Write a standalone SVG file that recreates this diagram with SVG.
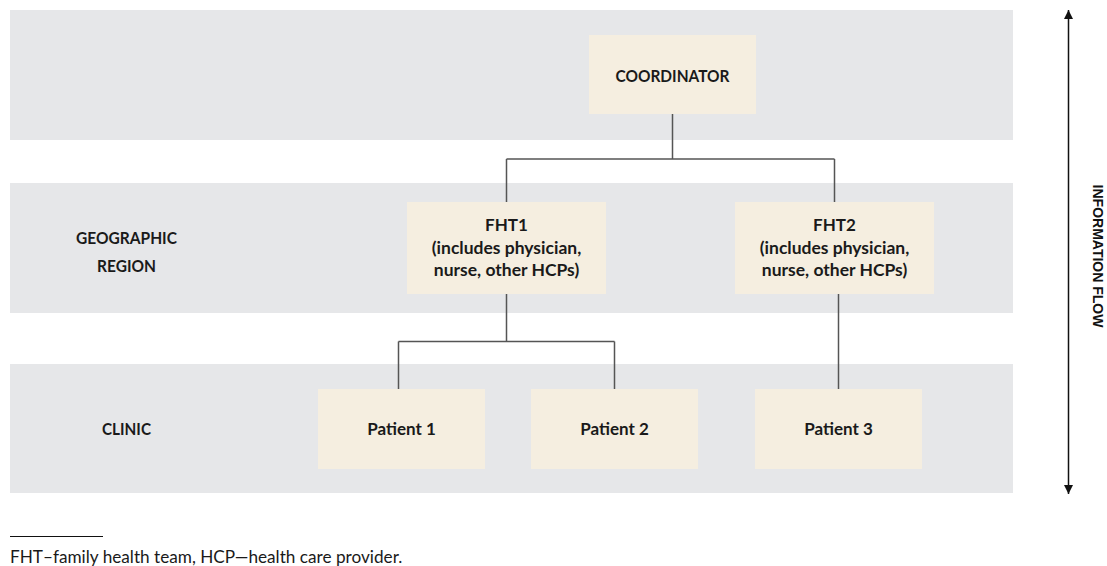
<svg xmlns="http://www.w3.org/2000/svg" width="1107" height="566" viewBox="0 0 1107 566">
<style>
.band{fill:#e6e7e9}
.box{fill:#f5eee0}
.t{font-family:Lato,"Liberation Sans",sans-serif;font-weight:700;font-size:17px;fill:#1a1a1a;text-anchor:middle}
.l{font-size:17.5px}
.conn{stroke:#555;stroke-width:1.5;fill:none}
.foot{font-family:Lato,"Liberation Sans",sans-serif;font-size:17.2px;fill:#1a1a1a}
.flow{font-family:"Liberation Sans",Arial,sans-serif;font-weight:700;font-size:14px;fill:#111;text-anchor:middle}
</style>
<defs>
<marker id="ah" viewBox="0 0 10 10" refX="10" refY="5" markerWidth="9" markerHeight="9" markerUnits="userSpaceOnUse" orient="auto-start-reverse">
<path d="M0,0 L10,5 L0,10 z" fill="#111"/>
</marker>
</defs>
<g id="bands">
<rect class="band" x="10" y="10" width="1003" height="130"/>
<rect class="band" x="10" y="183" width="1003" height="130"/>
<rect class="band" x="10" y="364" width="1003" height="129"/>
</g>
<g id="connectors">
<path class="conn" d="M672.5,114 V159 M506.5,159 H834.5 M506.5,159 V202 M834.5,159 V202"/>
<path class="conn" d="M506.5,294 V341.5 M398.5,341.5 H614.5 M398.5,341.5 V389 M614.5,341.5 V389"/>
<path class="conn" d="M838.5,294 V389" stroke-width="2"/>
<line x1="1068.5" y1="10" x2="1068.5" y2="494" stroke="#111" stroke-width="1.5" marker-start="url(#ah)" marker-end="url(#ah)"/>
</g>
<g id="label-geographic">
<text class="t" x="126.5" y="244" textLength="101" lengthAdjust="spacingAndGlyphs">GEOGRAPHIC</text>
<text class="t" x="126.5" y="272" textLength="59" lengthAdjust="spacingAndGlyphs">REGION</text>
</g>
<g id="label-clinic">
<text class="t" x="126.5" y="435" textLength="49" lengthAdjust="spacingAndGlyphs">CLINIC</text>
</g>
<g id="coordinator">
<rect class="box" x="589" y="35" width="167" height="79"/>
<text class="t" x="672.5" y="81.5" textLength="114" lengthAdjust="spacingAndGlyphs">COORDINATOR</text>
</g>
<g id="fht1">
<rect class="box" x="407" y="202" width="199" height="92"/>
<text class="t" x="506.5" y="230.5">FHT1</text>
<text class="t l" x="506.5" y="253.5">(includes physician,</text>
<text class="t l" x="506.5" y="276">nurse, other HCPs)</text>
</g>
<g id="fht2">
<rect class="box" x="735" y="202" width="199" height="92"/>
<text class="t" x="834.5" y="230.5">FHT2</text>
<text class="t l" x="834.5" y="253.5">(includes physician,</text>
<text class="t l" x="834.5" y="276">nurse, other HCPs)</text>
</g>
<g id="patient1">
<rect class="box" x="318" y="389" width="167" height="80"/>
<text class="t" x="401.5" y="435">Patient 1</text>
</g>
<g id="patient2">
<rect class="box" x="531" y="389" width="167" height="80"/>
<text class="t" x="614.5" y="435">Patient 2</text>
</g>
<g id="patient3">
<rect class="box" x="755" y="389" width="167" height="80"/>
<text class="t" x="838.5" y="435">Patient 3</text>
</g>
<g id="flow-label">
<text class="flow" transform="translate(1092.5,256) rotate(90)">INFORMATION FLOW</text>
</g>
<g id="footnote">
<line x1="10" y1="536.5" x2="103" y2="536.5" stroke="#111" stroke-width="1"/>
<text class="foot" x="10" y="562.5">FHT–family health team, HCP—health care provider.</text>
</g>
</svg>
